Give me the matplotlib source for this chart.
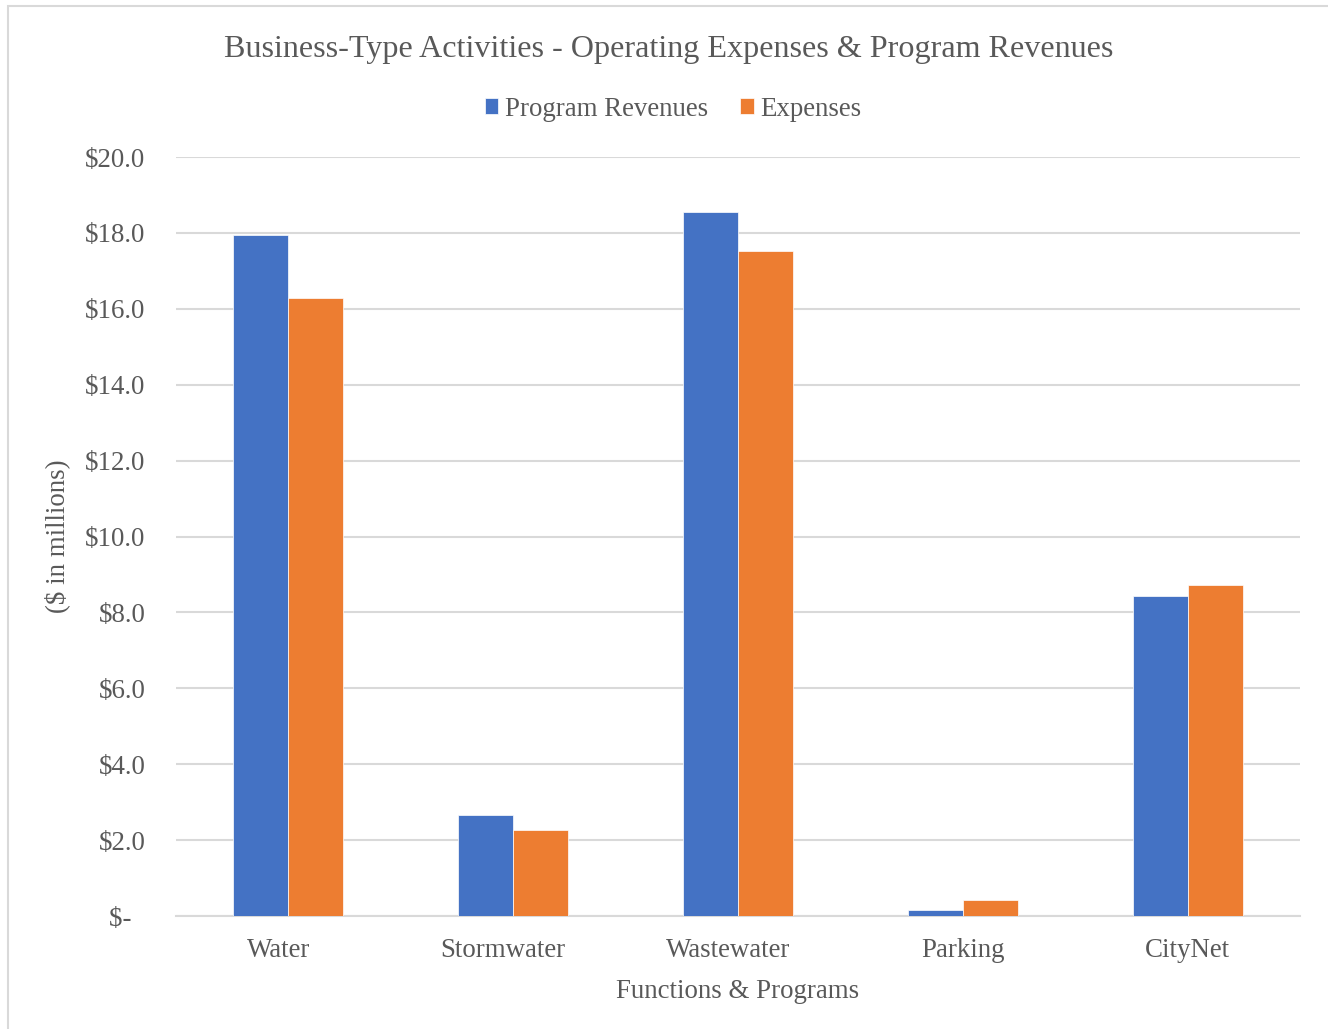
import numpy as np
import matplotlib.pyplot as plt
from matplotlib.patches import Rectangle
from matplotlib.transforms import ScaledTranslation

categories = ["Water", "Stormwater", "Wastewater", "Parking", "CityNet"]
program_revenues = [17.94, 2.66, 18.55, 0.16, 8.43]
expenses = [16.28, 2.27, 17.52, 0.42, 8.72]
yticks = [0, 2, 4, 6, 8, 10, 12, 14, 16, 18, 20]

plt.rcParams['font.family'] = ['Liberation Serif', 'DejaVu Serif']
txt = '#595959'
grid = '#d9d9d9'
fs = 19.4

fig = plt.figure(figsize=(13.28, 10.29), dpi=100)
ax = fig.add_axes([0.1325, 0.1098, 0.8465, 0.7376])

# outer chart border (partly outside the image)
fig.patches.append(Rectangle((8 / 1328, -0.05), 1.1, 1 - 6 / 1029 + 0.05,
                             transform=fig.transFigure, fill=False,
                             edgecolor=grid, linewidth=1.5))

x = np.arange(len(categories))
w = 0.245
ax.bar(x - w / 2, program_revenues, w, color='#4472C4', label='Program Revenues',
       edgecolor='white', linewidth=0.5, zorder=3)
ax.bar(x + w / 2, expenses, w, color='#ED7D31', label='Expenses',
       edgecolor='white', linewidth=0.5, zorder=3)

ax.set_xlim(-0.5, len(categories) - 0.5)
ax.set_ylim(0, 20)
ax.set_yticks(yticks)
ax.set_yticklabels(['$-  ' if v == 0 else f'${v:.1f}' for v in yticks])
ax.set_xticks(x)
ax.set_xticklabels(categories)
ax.tick_params(axis='both', length=0, labelsize=fs, colors=txt)
ax.tick_params(axis='y', pad=22)
ax.tick_params(axis='x', pad=16)
# the first three category labels sit a little left of their bars
for lab, dx in zip(ax.get_xticklabels(), [-10, -10, -10, 0, 0]):
    lab.set_transform(lab.get_transform() + ScaledTranslation(dx / 100, 0, fig.dpi_scale_trans))
ax.yaxis.grid(True, color=grid, linewidth=1.5, zorder=0)
for s in ['top', 'right', 'left']:
    ax.spines[s].set_visible(False)
ax.spines['bottom'].set_color(grid)
ax.spines['bottom'].set_linewidth(1.5)

ax.set_xlabel('Functions & Programs', fontsize=fs, color=txt, labelpad=11)
ax.set_ylabel('($ in millions)', fontsize=fs, color=txt)
ax.yaxis.set_label_coords(-0.094, 0.5)
fig.text(0.5035, 1 - 50 / 1029, 'Business-Type Activities - Operating Expenses & Program Revenues',
         ha='center', va='center', fontsize=23.1, color=txt)
fig.legend(loc='center', bbox_to_anchor=(0.507, 1 - 109 / 1029), ncol=2, frameon=False,
           fontsize=fs, labelcolor=txt, handlelength=0.5, handleheight=0.5,
           handletextpad=0.25, columnspacing=1.2)

fig.savefig('out.png', dpi=100)
